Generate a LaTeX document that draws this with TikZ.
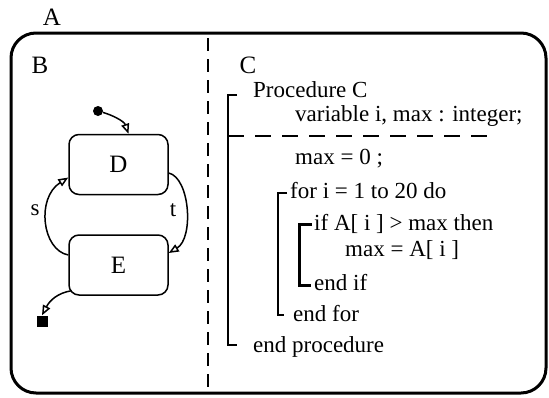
\documentclass[tikz,border=0pt]{standalone}
\usepackage{fontspec}
\setmainfont{Liberation Serif}
\usetikzlibrary{arrows.meta}
\begin{document}
\begin{tikzpicture}[x=1pt,y=-1pt,
  every node/.style={inner sep=0pt},
  txt/.style={font=\fontsize{23}{27}\selectfont, anchor=base west},
  lbl/.style={font=\fontsize{25}{30}\selectfont},
  state/.style={draw, line width=1.5pt, rounded corners=10pt, minimum width=99pt, minimum height=60pt, font=\fontsize{25}{30}\selectfont},
  trans/.style={line width=1.5pt, -{Triangle[open,length=10pt,width=8pt,fill=white]}},
  brk/.style={line width=2pt},
  ibrk/.style={line width=3pt},
  sep/.style={line width=1.2pt, dash pattern=on 13pt off 8pt},
  hsep/.style={line width=1.2pt, dash pattern=on 16pt off 11pt},
]
\useasboundingbox (0,0) rectangle (549,397);
% outer state A
\node[lbl] (A) at (52,17) {A};
\node[draw, line width=3pt, rounded corners=25pt, minimum width=535pt, minimum height=360pt] (boxA) at (278.5,213) {};
\node[lbl] (B) at (40,65) {B};
\node[lbl] (C) at (248,65) {C};
\coordinate (septop) at (208,38);
\coordinate (sepbot) at (208,393);
\draw[sep] (septop) -- (sepbot);

% states
\node[state] (D) at (118.5,164.5) {D};
\node[state] (E) at (118.5,265) {E};
\node[circle, fill, minimum size=10pt] (init) at (98,111) {};
\node[fill, minimum size=11pt] (fin) at (42,321) {};
\draw[trans] (init) .. controls (112,115) and (124,121) .. ([xshift=10pt]D.north);
\draw[trans] ([yshift=10pt]E.west) .. controls (42,250) and (36,198) .. ([yshift=-13pt]D.west);
\draw[trans] ([yshift=-8.5pt]D.east) .. controls (190,178) and (194,238) .. ([yshift=12pt]E.east);
\draw[trans] ([shift={(3pt,5pt)}]E.south west) .. controls (58,293) and (50,300) .. (fin.north);
\node[font=\fontsize{23}{27}\selectfont] (s) at (35,210) {s};
\node[font=\fontsize{23}{27}\selectfont] (t) at (173,210) {t};

% code
\node[txt] (l1) at (253,97) {Procedure C};
\node[txt] (l2) at (295,121) {variable i, max : integer;};
\node[txt] (l3) at (295,164) {max = 0 ;};
\node[txt] (l4) at (290,198) {for i = 1 to 20 do};
\node[txt] (l5) at (314,230) {if A[ i ] > max then};
\node[txt] (l6) at (345,256) {max = A[ i ]};
\node[txt] (l7) at (314,290) {end if};
\node[txt] (l8) at (293,321) {end for};
\node[txt] (l9) at (253,352) {end procedure};

\coordinate (b1a) at (237,95);
\coordinate (b1b) at (228,95);
\coordinate (b1c) at (228,345);
\coordinate (b1d) at (237,345);
\draw[brk] (b1a) -- (b1b) -- (b1c) -- (b1d);
\coordinate (h1) at (228,136);
\coordinate (h2) at (487,136);
\draw[hsep] (h1) -- (h2);
\coordinate (b2a) at (287,193);
\coordinate (b2b) at (278,193);
\coordinate (b2c) at (278,315);
\coordinate (b2d) at (284,315);
\draw[brk] (b2a) -- (b2b) -- (b2c) -- (b2d);
\coordinate (b3a) at (312,224);
\coordinate (b3b) at (299,224);
\coordinate (b3c) at (299,285);
\coordinate (b3d) at (311,285);
\draw[ibrk] (b3a) -- (b3b) -- (b3c) -- (b3d);
\end{tikzpicture}
\end{document}
